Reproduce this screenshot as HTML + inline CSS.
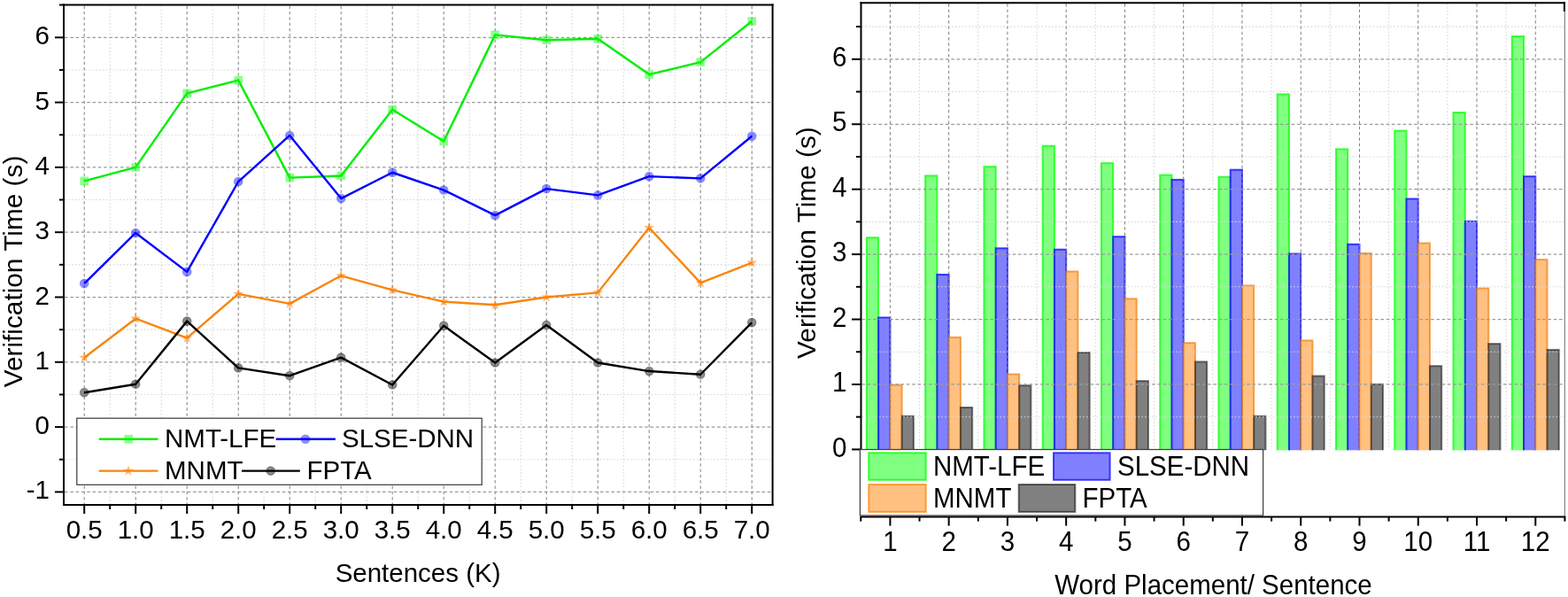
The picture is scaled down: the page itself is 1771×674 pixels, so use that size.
<!DOCTYPE html>
<html><head><meta charset="utf-8"><title>Verification Time Charts</title>
<style>
html,body{margin:0;padding:0;background:#fff;}
body{width:1771px;height:674px;overflow:hidden;}
svg{display:block;}
svg text{font-family:"Liberation Sans", Arial, sans-serif;font-size:29.5px;fill:#000;}
</style></head>
<body>
<svg width="1771" height="674" viewBox="0 0 1771 674">
<rect width="1771" height="674" fill="#fff"/>
<line x1="124.2" y1="6.6" x2="124.2" y2="569" stroke="#d6d6d6" stroke-width="1.1" stroke-dasharray="1.6 2.3"/>
<line x1="182.2" y1="6.6" x2="182.2" y2="569" stroke="#d6d6d6" stroke-width="1.1" stroke-dasharray="1.6 2.3"/>
<line x1="240.2" y1="6.6" x2="240.2" y2="569" stroke="#d6d6d6" stroke-width="1.1" stroke-dasharray="1.6 2.3"/>
<line x1="298.2" y1="6.6" x2="298.2" y2="569" stroke="#d6d6d6" stroke-width="1.1" stroke-dasharray="1.6 2.3"/>
<line x1="356.2" y1="6.6" x2="356.2" y2="569" stroke="#d6d6d6" stroke-width="1.1" stroke-dasharray="1.6 2.3"/>
<line x1="414.2" y1="6.6" x2="414.2" y2="569" stroke="#d6d6d6" stroke-width="1.1" stroke-dasharray="1.6 2.3"/>
<line x1="472.2" y1="6.6" x2="472.2" y2="569" stroke="#d6d6d6" stroke-width="1.1" stroke-dasharray="1.6 2.3"/>
<line x1="530.2" y1="6.6" x2="530.2" y2="569" stroke="#d6d6d6" stroke-width="1.1" stroke-dasharray="1.6 2.3"/>
<line x1="588.2" y1="6.6" x2="588.2" y2="569" stroke="#d6d6d6" stroke-width="1.1" stroke-dasharray="1.6 2.3"/>
<line x1="646.2" y1="6.6" x2="646.2" y2="569" stroke="#d6d6d6" stroke-width="1.1" stroke-dasharray="1.6 2.3"/>
<line x1="704.2" y1="6.6" x2="704.2" y2="569" stroke="#d6d6d6" stroke-width="1.1" stroke-dasharray="1.6 2.3"/>
<line x1="762.2" y1="6.6" x2="762.2" y2="569" stroke="#d6d6d6" stroke-width="1.1" stroke-dasharray="1.6 2.3"/>
<line x1="820.2" y1="6.6" x2="820.2" y2="569" stroke="#d6d6d6" stroke-width="1.1" stroke-dasharray="1.6 2.3"/>
<line x1="73" y1="78.95" x2="871.6" y2="78.95" stroke="#d6d6d6" stroke-width="1.1" stroke-dasharray="1.6 2.3"/>
<line x1="73" y1="152.25" x2="871.6" y2="152.25" stroke="#d6d6d6" stroke-width="1.1" stroke-dasharray="1.6 2.3"/>
<line x1="73" y1="225.55" x2="871.6" y2="225.55" stroke="#d6d6d6" stroke-width="1.1" stroke-dasharray="1.6 2.3"/>
<line x1="73" y1="298.85" x2="871.6" y2="298.85" stroke="#d6d6d6" stroke-width="1.1" stroke-dasharray="1.6 2.3"/>
<line x1="73" y1="372.15" x2="871.6" y2="372.15" stroke="#d6d6d6" stroke-width="1.1" stroke-dasharray="1.6 2.3"/>
<line x1="73" y1="445.45" x2="871.6" y2="445.45" stroke="#d6d6d6" stroke-width="1.1" stroke-dasharray="1.6 2.3"/>
<line x1="73" y1="518.75" x2="871.6" y2="518.75" stroke="#d6d6d6" stroke-width="1.1" stroke-dasharray="1.6 2.3"/>
<line x1="95.2" y1="6.6" x2="95.2" y2="569" stroke="#808080" stroke-width="1.0" stroke-dasharray="3.5 2.8"/>
<line x1="153.2" y1="6.6" x2="153.2" y2="569" stroke="#808080" stroke-width="1.0" stroke-dasharray="3.5 2.8"/>
<line x1="211.2" y1="6.6" x2="211.2" y2="569" stroke="#808080" stroke-width="1.0" stroke-dasharray="3.5 2.8"/>
<line x1="269.2" y1="6.6" x2="269.2" y2="569" stroke="#808080" stroke-width="1.0" stroke-dasharray="3.5 2.8"/>
<line x1="327.2" y1="6.6" x2="327.2" y2="569" stroke="#808080" stroke-width="1.0" stroke-dasharray="3.5 2.8"/>
<line x1="385.2" y1="6.6" x2="385.2" y2="569" stroke="#808080" stroke-width="1.0" stroke-dasharray="3.5 2.8"/>
<line x1="443.2" y1="6.6" x2="443.2" y2="569" stroke="#808080" stroke-width="1.0" stroke-dasharray="3.5 2.8"/>
<line x1="501.2" y1="6.6" x2="501.2" y2="569" stroke="#808080" stroke-width="1.0" stroke-dasharray="3.5 2.8"/>
<line x1="559.2" y1="6.6" x2="559.2" y2="569" stroke="#808080" stroke-width="1.0" stroke-dasharray="3.5 2.8"/>
<line x1="617.2" y1="6.6" x2="617.2" y2="569" stroke="#808080" stroke-width="1.0" stroke-dasharray="3.5 2.8"/>
<line x1="675.2" y1="6.6" x2="675.2" y2="569" stroke="#808080" stroke-width="1.0" stroke-dasharray="3.5 2.8"/>
<line x1="733.2" y1="6.6" x2="733.2" y2="569" stroke="#808080" stroke-width="1.0" stroke-dasharray="3.5 2.8"/>
<line x1="791.2" y1="6.6" x2="791.2" y2="569" stroke="#808080" stroke-width="1.0" stroke-dasharray="3.5 2.8"/>
<line x1="849.2" y1="6.6" x2="849.2" y2="569" stroke="#808080" stroke-width="1.0" stroke-dasharray="3.5 2.8"/>
<line x1="73" y1="555.4" x2="871.6" y2="555.4" stroke="#9a9a9a" stroke-width="1.25" stroke-dasharray="3.6 2.7"/>
<line x1="73" y1="482.1" x2="871.6" y2="482.1" stroke="#9a9a9a" stroke-width="1.25" stroke-dasharray="3.6 2.7"/>
<line x1="73" y1="408.8" x2="871.6" y2="408.8" stroke="#9a9a9a" stroke-width="1.25" stroke-dasharray="3.6 2.7"/>
<line x1="73" y1="335.5" x2="871.6" y2="335.5" stroke="#9a9a9a" stroke-width="1.25" stroke-dasharray="3.6 2.7"/>
<line x1="73" y1="262.2" x2="871.6" y2="262.2" stroke="#9a9a9a" stroke-width="1.25" stroke-dasharray="3.6 2.7"/>
<line x1="73" y1="188.9" x2="871.6" y2="188.9" stroke="#9a9a9a" stroke-width="1.25" stroke-dasharray="3.6 2.7"/>
<line x1="73" y1="115.6" x2="871.6" y2="115.6" stroke="#9a9a9a" stroke-width="1.25" stroke-dasharray="3.6 2.7"/>
<line x1="73" y1="42.3" x2="871.6" y2="42.3" stroke="#9a9a9a" stroke-width="1.25" stroke-dasharray="3.6 2.7"/>
<polyline points="95.2,204.29 153.2,188.9 211.2,105.34 269.2,90.68 327.2,200.63 385.2,198.43 443.2,123.66 501.2,159.58 559.2,39.37 617.2,45.23 675.2,43.77 733.2,84.08 791.2,70.15 849.2,23.97" fill="none" stroke="#00ee00" stroke-width="2.4" stroke-linejoin="round"/>
<rect x="90.4" y="199.49" width="9.6" height="9.6" fill="#00ff00" fill-opacity="0.45"/>
<rect x="148.4" y="184.1" width="9.6" height="9.6" fill="#00ff00" fill-opacity="0.45"/>
<rect x="206.4" y="100.54" width="9.6" height="9.6" fill="#00ff00" fill-opacity="0.45"/>
<rect x="264.4" y="85.88" width="9.6" height="9.6" fill="#00ff00" fill-opacity="0.45"/>
<rect x="322.4" y="195.83" width="9.6" height="9.6" fill="#00ff00" fill-opacity="0.45"/>
<rect x="380.4" y="193.63" width="9.6" height="9.6" fill="#00ff00" fill-opacity="0.45"/>
<rect x="438.4" y="118.86" width="9.6" height="9.6" fill="#00ff00" fill-opacity="0.45"/>
<rect x="496.4" y="154.78" width="9.6" height="9.6" fill="#00ff00" fill-opacity="0.45"/>
<rect x="554.4" y="34.57" width="9.6" height="9.6" fill="#00ff00" fill-opacity="0.45"/>
<rect x="612.4" y="40.43" width="9.6" height="9.6" fill="#00ff00" fill-opacity="0.45"/>
<rect x="670.4" y="38.97" width="9.6" height="9.6" fill="#00ff00" fill-opacity="0.45"/>
<rect x="728.4" y="79.28" width="9.6" height="9.6" fill="#00ff00" fill-opacity="0.45"/>
<rect x="786.4" y="65.35" width="9.6" height="9.6" fill="#00ff00" fill-opacity="0.45"/>
<rect x="844.4" y="19.17" width="9.6" height="9.6" fill="#00ff00" fill-opacity="0.45"/>
<polyline points="95.2,320.11 153.2,262.93 211.2,306.91 269.2,205.03 327.2,152.98 385.2,224.08 443.2,194.76 501.2,214.56 559.2,243.14 617.2,213.09 675.2,220.42 733.2,199.16 791.2,201.36 849.2,153.72" fill="none" stroke="#0000ff" stroke-width="2.4" stroke-linejoin="round"/>
<circle cx="95.2" cy="320.11" r="5.3" fill="#0000ff" fill-opacity="0.45"/>
<circle cx="153.2" cy="262.93" r="5.3" fill="#0000ff" fill-opacity="0.45"/>
<circle cx="211.2" cy="306.91" r="5.3" fill="#0000ff" fill-opacity="0.45"/>
<circle cx="269.2" cy="205.03" r="5.3" fill="#0000ff" fill-opacity="0.45"/>
<circle cx="327.2" cy="152.98" r="5.3" fill="#0000ff" fill-opacity="0.45"/>
<circle cx="385.2" cy="224.08" r="5.3" fill="#0000ff" fill-opacity="0.45"/>
<circle cx="443.2" cy="194.76" r="5.3" fill="#0000ff" fill-opacity="0.45"/>
<circle cx="501.2" cy="214.56" r="5.3" fill="#0000ff" fill-opacity="0.45"/>
<circle cx="559.2" cy="243.14" r="5.3" fill="#0000ff" fill-opacity="0.45"/>
<circle cx="617.2" cy="213.09" r="5.3" fill="#0000ff" fill-opacity="0.45"/>
<circle cx="675.2" cy="220.42" r="5.3" fill="#0000ff" fill-opacity="0.45"/>
<circle cx="733.2" cy="199.16" r="5.3" fill="#0000ff" fill-opacity="0.45"/>
<circle cx="791.2" cy="201.36" r="5.3" fill="#0000ff" fill-opacity="0.45"/>
<circle cx="849.2" cy="153.72" r="5.3" fill="#0000ff" fill-opacity="0.45"/>
<polyline points="95.2,403.67 153.2,359.69 211.2,381.68 269.2,331.84 327.2,342.83 385.2,311.31 443.2,327.44 501.2,340.63 559.2,344.3 617.2,335.5 675.2,330.37 733.2,257.07 791.2,319.37 849.2,296.65" fill="none" stroke="#f7860f" stroke-width="2.4" stroke-linejoin="round"/>
<polygon points="95.2,397.47 96.73,401.56 101.1,401.75 97.68,404.47 98.84,408.68 95.2,406.27 91.56,408.68 92.72,404.47 89.3,401.75 93.67,401.56" fill="rgba(255,128,0,0.55)"/>
<polygon points="153.2,353.49 154.73,357.58 159.1,357.77 155.68,360.49 156.84,364.7 153.2,362.29 149.56,364.7 150.72,360.49 147.3,357.77 151.67,357.58" fill="rgba(255,128,0,0.55)"/>
<polygon points="211.2,375.48 212.73,379.57 217.1,379.76 213.68,382.48 214.84,386.69 211.2,384.28 207.56,386.69 208.72,382.48 205.3,379.76 209.67,379.57" fill="rgba(255,128,0,0.55)"/>
<polygon points="269.2,325.64 270.73,329.73 275.1,329.92 271.68,332.64 272.84,336.85 269.2,334.44 265.56,336.85 266.72,332.64 263.3,329.92 267.67,329.73" fill="rgba(255,128,0,0.55)"/>
<polygon points="327.2,336.63 328.73,340.72 333.1,340.91 329.68,343.63 330.84,347.85 327.2,345.43 323.56,347.85 324.72,343.63 321.3,340.91 325.67,340.72" fill="rgba(255,128,0,0.55)"/>
<polygon points="385.2,305.11 386.73,309.2 391.1,309.4 387.68,312.12 388.84,316.33 385.2,313.91 381.56,316.33 382.72,312.12 379.3,309.4 383.67,309.2" fill="rgba(255,128,0,0.55)"/>
<polygon points="443.2,321.24 444.73,325.33 449.1,325.52 445.68,328.24 446.84,332.45 443.2,330.04 439.56,332.45 440.72,328.24 437.3,325.52 441.67,325.33" fill="rgba(255,128,0,0.55)"/>
<polygon points="501.2,334.43 502.73,338.52 507.1,338.72 503.68,341.44 504.84,345.65 501.2,343.24 497.56,345.65 498.72,341.44 495.3,338.72 499.67,338.52" fill="rgba(255,128,0,0.55)"/>
<polygon points="559.2,338.1 560.73,342.19 565.1,342.38 561.68,345.1 562.84,349.31 559.2,346.9 555.56,349.31 556.72,345.1 553.3,342.38 557.67,342.19" fill="rgba(255,128,0,0.55)"/>
<polygon points="617.2,329.3 618.73,333.39 623.1,333.58 619.68,336.3 620.84,340.52 617.2,338.1 613.56,340.52 614.72,336.3 611.3,333.58 615.67,333.39" fill="rgba(255,128,0,0.55)"/>
<polygon points="675.2,324.17 676.73,328.26 681.1,328.45 677.68,331.17 678.84,335.38 675.2,332.97 671.56,335.38 672.72,331.17 669.3,328.45 673.67,328.26" fill="rgba(255,128,0,0.55)"/>
<polygon points="733.2,250.87 734.73,254.96 739.1,255.15 735.68,257.87 736.84,262.08 733.2,259.67 729.56,262.08 730.72,257.87 727.3,255.15 731.67,254.96" fill="rgba(255,128,0,0.55)"/>
<polygon points="791.2,313.17 792.73,317.27 797.1,317.46 793.68,320.18 794.84,324.39 791.2,321.98 787.56,324.39 788.72,320.18 785.3,317.46 789.67,317.27" fill="rgba(255,128,0,0.55)"/>
<polygon points="849.2,290.45 850.73,294.54 855.1,294.74 851.68,297.46 852.84,301.67 849.2,299.25 845.56,301.67 846.72,297.46 843.3,294.74 847.67,294.54" fill="rgba(255,128,0,0.55)"/>
<polyline points="95.2,443.25 153.2,433.72 211.2,362.62 269.2,415.4 327.2,424.19 385.2,403.67 443.2,434.45 501.2,367.75 559.2,409.53 617.2,367.02 675.2,409.53 733.2,419.06 791.2,422.73 849.2,364.09" fill="none" stroke="#000000" stroke-width="2.4" stroke-linejoin="round"/>
<circle cx="95.2" cy="443.25" r="4.8" fill="#000" fill-opacity="0.45" stroke="#000" stroke-opacity="0.3" stroke-width="1.2"/>
<circle cx="153.2" cy="433.72" r="4.8" fill="#000" fill-opacity="0.45" stroke="#000" stroke-opacity="0.3" stroke-width="1.2"/>
<circle cx="211.2" cy="362.62" r="4.8" fill="#000" fill-opacity="0.45" stroke="#000" stroke-opacity="0.3" stroke-width="1.2"/>
<circle cx="269.2" cy="415.4" r="4.8" fill="#000" fill-opacity="0.45" stroke="#000" stroke-opacity="0.3" stroke-width="1.2"/>
<circle cx="327.2" cy="424.19" r="4.8" fill="#000" fill-opacity="0.45" stroke="#000" stroke-opacity="0.3" stroke-width="1.2"/>
<circle cx="385.2" cy="403.67" r="4.8" fill="#000" fill-opacity="0.45" stroke="#000" stroke-opacity="0.3" stroke-width="1.2"/>
<circle cx="443.2" cy="434.45" r="4.8" fill="#000" fill-opacity="0.45" stroke="#000" stroke-opacity="0.3" stroke-width="1.2"/>
<circle cx="501.2" cy="367.75" r="4.8" fill="#000" fill-opacity="0.45" stroke="#000" stroke-opacity="0.3" stroke-width="1.2"/>
<circle cx="559.2" cy="409.53" r="4.8" fill="#000" fill-opacity="0.45" stroke="#000" stroke-opacity="0.3" stroke-width="1.2"/>
<circle cx="617.2" cy="367.02" r="4.8" fill="#000" fill-opacity="0.45" stroke="#000" stroke-opacity="0.3" stroke-width="1.2"/>
<circle cx="675.2" cy="409.53" r="4.8" fill="#000" fill-opacity="0.45" stroke="#000" stroke-opacity="0.3" stroke-width="1.2"/>
<circle cx="733.2" cy="419.06" r="4.8" fill="#000" fill-opacity="0.45" stroke="#000" stroke-opacity="0.3" stroke-width="1.2"/>
<circle cx="791.2" cy="422.73" r="4.8" fill="#000" fill-opacity="0.45" stroke="#000" stroke-opacity="0.3" stroke-width="1.2"/>
<circle cx="849.2" cy="364.09" r="4.8" fill="#000" fill-opacity="0.45" stroke="#000" stroke-opacity="0.3" stroke-width="1.2"/>
<rect x="86.8" y="472.2" width="457.4" height="75.1" fill="#fff" stroke="#404040" stroke-width="1.25"/>
<line x1="111.7" y1="495.7" x2="178.4" y2="495.7" stroke="#00ee00" stroke-width="2.4"/>
<rect x="140.5" y="490.9" width="9.6" height="9.6" fill="#00ff00" fill-opacity="0.45"/>
<line x1="311.7" y1="495.7" x2="378.9" y2="495.7" stroke="#0000ff" stroke-width="2.4"/>
<circle cx="345" cy="495.7" r="5.3" fill="#0000ff" fill-opacity="0.45"/>
<line x1="111.7" y1="531.6" x2="178.4" y2="531.6" stroke="#f7860f" stroke-width="2.4"/>
<polygon points="145,525.4 146.53,529.49 150.9,529.68 147.48,532.4 148.64,536.62 145,534.2 141.36,536.62 142.52,532.4 139.1,529.68 143.47,529.49" fill="rgba(255,128,0,0.55)"/>
<line x1="273" y1="531.6" x2="338.8" y2="531.6" stroke="#000" stroke-width="2.4"/>
<circle cx="305.7" cy="531.6" r="4.8" fill="#000" fill-opacity="0.45" stroke="#000" stroke-opacity="0.3" stroke-width="1.2"/>
<text x="186" y="505">NMT-LFE</text>
<text x="386" y="505">SLSE-DNN</text>
<text x="186" y="541.3">MNMT</text>
<text x="346.6" y="541.3">FPTA</text>
<line x1="72.0" y1="4.6" x2="72.0" y2="571.0" stroke="#000" stroke-width="2"/>
<line x1="872.6" y1="4.6" x2="872.6" y2="571.0" stroke="#000" stroke-width="2"/>
<line x1="67.0" y1="5.6" x2="873.6" y2="5.6" stroke="#000" stroke-width="2"/>
<line x1="71.0" y1="570.0" x2="873.6" y2="570.0" stroke="#000" stroke-width="2"/>
<line x1="62.0" y1="555.4" x2="72.0" y2="555.4" stroke="#000" stroke-width="2"/>
<text x="56" y="563.4" text-anchor="end">-1</text>
<line x1="62.0" y1="482.1" x2="72.0" y2="482.1" stroke="#000" stroke-width="2"/>
<text x="56" y="490.1" text-anchor="end">0</text>
<line x1="62.0" y1="408.8" x2="72.0" y2="408.8" stroke="#000" stroke-width="2"/>
<text x="56" y="416.8" text-anchor="end">1</text>
<line x1="62.0" y1="335.5" x2="72.0" y2="335.5" stroke="#000" stroke-width="2"/>
<text x="56" y="343.5" text-anchor="end">2</text>
<line x1="62.0" y1="262.2" x2="72.0" y2="262.2" stroke="#000" stroke-width="2"/>
<text x="56" y="270.2" text-anchor="end">3</text>
<line x1="62.0" y1="188.9" x2="72.0" y2="188.9" stroke="#000" stroke-width="2"/>
<text x="56" y="196.9" text-anchor="end">4</text>
<line x1="62.0" y1="115.6" x2="72.0" y2="115.6" stroke="#000" stroke-width="2"/>
<text x="56" y="123.6" text-anchor="end">5</text>
<line x1="62.0" y1="42.3" x2="72.0" y2="42.3" stroke="#000" stroke-width="2"/>
<text x="56" y="50.3" text-anchor="end">6</text>
<line x1="67.0" y1="78.95" x2="72.0" y2="78.95" stroke="#000" stroke-width="2"/>
<line x1="67.0" y1="152.25" x2="72.0" y2="152.25" stroke="#000" stroke-width="2"/>
<line x1="67.0" y1="225.55" x2="72.0" y2="225.55" stroke="#000" stroke-width="2"/>
<line x1="67.0" y1="298.85" x2="72.0" y2="298.85" stroke="#000" stroke-width="2"/>
<line x1="67.0" y1="372.15" x2="72.0" y2="372.15" stroke="#000" stroke-width="2"/>
<line x1="67.0" y1="445.45" x2="72.0" y2="445.45" stroke="#000" stroke-width="2"/>
<line x1="67.0" y1="518.75" x2="72.0" y2="518.75" stroke="#000" stroke-width="2"/>
<line x1="95.2" y1="570.0" x2="95.2" y2="580.0" stroke="#000" stroke-width="2"/>
<text x="95.2" y="608.4" text-anchor="middle">0.5</text>
<line x1="153.2" y1="570.0" x2="153.2" y2="580.0" stroke="#000" stroke-width="2"/>
<text x="153.2" y="608.4" text-anchor="middle">1.0</text>
<line x1="211.2" y1="570.0" x2="211.2" y2="580.0" stroke="#000" stroke-width="2"/>
<text x="211.2" y="608.4" text-anchor="middle">1.5</text>
<line x1="269.2" y1="570.0" x2="269.2" y2="580.0" stroke="#000" stroke-width="2"/>
<text x="269.2" y="608.4" text-anchor="middle">2.0</text>
<line x1="327.2" y1="570.0" x2="327.2" y2="580.0" stroke="#000" stroke-width="2"/>
<text x="327.2" y="608.4" text-anchor="middle">2.5</text>
<line x1="385.2" y1="570.0" x2="385.2" y2="580.0" stroke="#000" stroke-width="2"/>
<text x="385.2" y="608.4" text-anchor="middle">3.0</text>
<line x1="443.2" y1="570.0" x2="443.2" y2="580.0" stroke="#000" stroke-width="2"/>
<text x="443.2" y="608.4" text-anchor="middle">3.5</text>
<line x1="501.2" y1="570.0" x2="501.2" y2="580.0" stroke="#000" stroke-width="2"/>
<text x="501.2" y="608.4" text-anchor="middle">4.0</text>
<line x1="559.2" y1="570.0" x2="559.2" y2="580.0" stroke="#000" stroke-width="2"/>
<text x="559.2" y="608.4" text-anchor="middle">4.5</text>
<line x1="617.2" y1="570.0" x2="617.2" y2="580.0" stroke="#000" stroke-width="2"/>
<text x="617.2" y="608.4" text-anchor="middle">5.0</text>
<line x1="675.2" y1="570.0" x2="675.2" y2="580.0" stroke="#000" stroke-width="2"/>
<text x="675.2" y="608.4" text-anchor="middle">5.5</text>
<line x1="733.2" y1="570.0" x2="733.2" y2="580.0" stroke="#000" stroke-width="2"/>
<text x="733.2" y="608.4" text-anchor="middle">6.0</text>
<line x1="791.2" y1="570.0" x2="791.2" y2="580.0" stroke="#000" stroke-width="2"/>
<text x="791.2" y="608.4" text-anchor="middle">6.5</text>
<line x1="849.2" y1="570.0" x2="849.2" y2="580.0" stroke="#000" stroke-width="2"/>
<text x="849.2" y="608.4" text-anchor="middle">7.0</text>
<line x1="124.2" y1="570.0" x2="124.2" y2="575.0" stroke="#000" stroke-width="2"/>
<line x1="182.2" y1="570.0" x2="182.2" y2="575.0" stroke="#000" stroke-width="2"/>
<line x1="240.2" y1="570.0" x2="240.2" y2="575.0" stroke="#000" stroke-width="2"/>
<line x1="298.2" y1="570.0" x2="298.2" y2="575.0" stroke="#000" stroke-width="2"/>
<line x1="356.2" y1="570.0" x2="356.2" y2="575.0" stroke="#000" stroke-width="2"/>
<line x1="414.2" y1="570.0" x2="414.2" y2="575.0" stroke="#000" stroke-width="2"/>
<line x1="472.2" y1="570.0" x2="472.2" y2="575.0" stroke="#000" stroke-width="2"/>
<line x1="530.2" y1="570.0" x2="530.2" y2="575.0" stroke="#000" stroke-width="2"/>
<line x1="588.2" y1="570.0" x2="588.2" y2="575.0" stroke="#000" stroke-width="2"/>
<line x1="646.2" y1="570.0" x2="646.2" y2="575.0" stroke="#000" stroke-width="2"/>
<line x1="704.2" y1="570.0" x2="704.2" y2="575.0" stroke="#000" stroke-width="2"/>
<line x1="762.2" y1="570.0" x2="762.2" y2="575.0" stroke="#000" stroke-width="2"/>
<line x1="820.2" y1="570.0" x2="820.2" y2="575.0" stroke="#000" stroke-width="2"/>
<text x="472.1" y="656.7" text-anchor="middle">Sentences (K)</text>
<text transform="translate(24.5,306.5) rotate(-90)" text-anchor="middle" style="font-size:29.8px">Verification Time (s)</text>
<defs><clipPath id="bc"><rect x="960" y="0" width="811" height="508.2"/></clipPath></defs>
<g clip-path="url(#bc)">
<rect x="978.9" y="268.3" width="13.25" height="242.9" fill="#80ff80" stroke="rgba(0,255,0,0.72)" stroke-width="2"/>
<rect x="992.15" y="358.5" width="13.25" height="152.7" fill="#8080ff" stroke="rgba(0,0,255,0.72)" stroke-width="2"/>
<rect x="1005.4" y="434.6" width="13.25" height="76.6" fill="#ffc080" stroke="rgba(240,120,0,0.65)" stroke-width="2"/>
<rect x="1018.65" y="469.8" width="13.25" height="41.4" fill="#808080" stroke="rgba(0,0,0,0.5)" stroke-width="2"/>
<rect x="1045.16" y="198.4" width="13.25" height="312.8" fill="#80ff80" stroke="rgba(0,255,0,0.72)" stroke-width="2"/>
<rect x="1058.41" y="310" width="13.25" height="201.2" fill="#8080ff" stroke="rgba(0,0,255,0.72)" stroke-width="2"/>
<rect x="1071.66" y="380.8" width="13.25" height="130.4" fill="#ffc080" stroke="rgba(240,120,0,0.65)" stroke-width="2"/>
<rect x="1084.91" y="460" width="13.25" height="51.2" fill="#808080" stroke="rgba(0,0,0,0.5)" stroke-width="2"/>
<rect x="1111.42" y="188.2" width="13.25" height="323" fill="#80ff80" stroke="rgba(0,255,0,0.72)" stroke-width="2"/>
<rect x="1124.67" y="280.3" width="13.25" height="230.9" fill="#8080ff" stroke="rgba(0,0,255,0.72)" stroke-width="2"/>
<rect x="1137.92" y="422.5" width="13.25" height="88.7" fill="#ffc080" stroke="rgba(240,120,0,0.65)" stroke-width="2"/>
<rect x="1151.17" y="435.2" width="13.25" height="76" fill="#808080" stroke="rgba(0,0,0,0.5)" stroke-width="2"/>
<rect x="1177.68" y="164.7" width="13.25" height="346.5" fill="#80ff80" stroke="rgba(0,255,0,0.72)" stroke-width="2"/>
<rect x="1190.93" y="281.7" width="13.25" height="229.5" fill="#8080ff" stroke="rgba(0,0,255,0.72)" stroke-width="2"/>
<rect x="1204.18" y="306.5" width="13.25" height="204.7" fill="#ffc080" stroke="rgba(240,120,0,0.65)" stroke-width="2"/>
<rect x="1217.43" y="398" width="13.25" height="113.2" fill="#808080" stroke="rgba(0,0,0,0.5)" stroke-width="2"/>
<rect x="1243.94" y="184.2" width="13.25" height="327" fill="#80ff80" stroke="rgba(0,255,0,0.72)" stroke-width="2"/>
<rect x="1257.19" y="267.2" width="13.25" height="244" fill="#8080ff" stroke="rgba(0,0,255,0.72)" stroke-width="2"/>
<rect x="1270.44" y="337.3" width="13.25" height="173.9" fill="#ffc080" stroke="rgba(240,120,0,0.65)" stroke-width="2"/>
<rect x="1283.69" y="430.1" width="13.25" height="81.1" fill="#808080" stroke="rgba(0,0,0,0.5)" stroke-width="2"/>
<rect x="1310.2" y="197.6" width="13.25" height="313.6" fill="#80ff80" stroke="rgba(0,255,0,0.72)" stroke-width="2"/>
<rect x="1323.45" y="202.9" width="13.25" height="308.3" fill="#8080ff" stroke="rgba(0,0,255,0.72)" stroke-width="2"/>
<rect x="1336.7" y="387.2" width="13.25" height="124" fill="#ffc080" stroke="rgba(240,120,0,0.65)" stroke-width="2"/>
<rect x="1349.95" y="408.4" width="13.25" height="102.8" fill="#808080" stroke="rgba(0,0,0,0.5)" stroke-width="2"/>
<rect x="1376.46" y="199.7" width="13.25" height="311.5" fill="#80ff80" stroke="rgba(0,255,0,0.72)" stroke-width="2"/>
<rect x="1389.71" y="191.7" width="13.25" height="319.5" fill="#8080ff" stroke="rgba(0,0,255,0.72)" stroke-width="2"/>
<rect x="1402.96" y="322.4" width="13.25" height="188.8" fill="#ffc080" stroke="rgba(240,120,0,0.65)" stroke-width="2"/>
<rect x="1416.21" y="469.8" width="13.25" height="41.4" fill="#808080" stroke="rgba(0,0,0,0.5)" stroke-width="2"/>
<rect x="1442.72" y="106.4" width="13.25" height="404.8" fill="#80ff80" stroke="rgba(0,255,0,0.72)" stroke-width="2"/>
<rect x="1455.97" y="286.5" width="13.25" height="224.7" fill="#8080ff" stroke="rgba(0,0,255,0.72)" stroke-width="2"/>
<rect x="1469.22" y="384.4" width="13.25" height="126.8" fill="#ffc080" stroke="rgba(240,120,0,0.65)" stroke-width="2"/>
<rect x="1482.47" y="424.5" width="13.25" height="86.7" fill="#808080" stroke="rgba(0,0,0,0.5)" stroke-width="2"/>
<rect x="1508.98" y="168.4" width="13.25" height="342.8" fill="#80ff80" stroke="rgba(0,255,0,0.72)" stroke-width="2"/>
<rect x="1522.23" y="275.8" width="13.25" height="235.4" fill="#8080ff" stroke="rgba(0,0,255,0.72)" stroke-width="2"/>
<rect x="1535.48" y="285.9" width="13.25" height="225.3" fill="#ffc080" stroke="rgba(240,120,0,0.65)" stroke-width="2"/>
<rect x="1548.73" y="433.8" width="13.25" height="77.4" fill="#808080" stroke="rgba(0,0,0,0.5)" stroke-width="2"/>
<rect x="1575.24" y="147.6" width="13.25" height="363.6" fill="#80ff80" stroke="rgba(0,255,0,0.72)" stroke-width="2"/>
<rect x="1588.49" y="224.5" width="13.25" height="286.7" fill="#8080ff" stroke="rgba(0,0,255,0.72)" stroke-width="2"/>
<rect x="1601.74" y="274.5" width="13.25" height="236.7" fill="#ffc080" stroke="rgba(240,120,0,0.65)" stroke-width="2"/>
<rect x="1614.99" y="413.2" width="13.25" height="98" fill="#808080" stroke="rgba(0,0,0,0.5)" stroke-width="2"/>
<rect x="1641.5" y="127" width="13.25" height="384.2" fill="#80ff80" stroke="rgba(0,255,0,0.72)" stroke-width="2"/>
<rect x="1654.75" y="249.9" width="13.25" height="261.3" fill="#8080ff" stroke="rgba(0,0,255,0.72)" stroke-width="2"/>
<rect x="1668" y="325.5" width="13.25" height="185.7" fill="#ffc080" stroke="rgba(240,120,0,0.65)" stroke-width="2"/>
<rect x="1681.25" y="388.1" width="13.25" height="123.1" fill="#808080" stroke="rgba(0,0,0,0.5)" stroke-width="2"/>
<rect x="1707.76" y="41" width="13.25" height="470.2" fill="#80ff80" stroke="rgba(0,255,0,0.72)" stroke-width="2"/>
<rect x="1721.01" y="199.2" width="13.25" height="312" fill="#8080ff" stroke="rgba(0,0,255,0.72)" stroke-width="2"/>
<rect x="1734.26" y="293.1" width="13.25" height="218.1" fill="#ffc080" stroke="rgba(240,120,0,0.65)" stroke-width="2"/>
<rect x="1747.51" y="394.9" width="13.25" height="116.3" fill="#808080" stroke="rgba(0,0,0,0.5)" stroke-width="2"/>
</g>
<line x1="1038.53" y1="4.2" x2="1038.53" y2="507.6" stroke="#d6d6d6" stroke-width="1.1" stroke-dasharray="1.6 2.3"/>
<line x1="1104.79" y1="4.2" x2="1104.79" y2="507.6" stroke="#d6d6d6" stroke-width="1.1" stroke-dasharray="1.6 2.3"/>
<line x1="1171.05" y1="4.2" x2="1171.05" y2="507.6" stroke="#d6d6d6" stroke-width="1.1" stroke-dasharray="1.6 2.3"/>
<line x1="1237.31" y1="4.2" x2="1237.31" y2="507.6" stroke="#d6d6d6" stroke-width="1.1" stroke-dasharray="1.6 2.3"/>
<line x1="1303.57" y1="4.2" x2="1303.57" y2="507.6" stroke="#d6d6d6" stroke-width="1.1" stroke-dasharray="1.6 2.3"/>
<line x1="1369.83" y1="4.2" x2="1369.83" y2="507.6" stroke="#d6d6d6" stroke-width="1.1" stroke-dasharray="1.6 2.3"/>
<line x1="1436.09" y1="4.2" x2="1436.09" y2="507.6" stroke="#d6d6d6" stroke-width="1.1" stroke-dasharray="1.6 2.3"/>
<line x1="1502.35" y1="4.2" x2="1502.35" y2="507.6" stroke="#d6d6d6" stroke-width="1.1" stroke-dasharray="1.6 2.3"/>
<line x1="1568.61" y1="4.2" x2="1568.61" y2="507.6" stroke="#d6d6d6" stroke-width="1.1" stroke-dasharray="1.6 2.3"/>
<line x1="1634.87" y1="4.2" x2="1634.87" y2="507.6" stroke="#d6d6d6" stroke-width="1.1" stroke-dasharray="1.6 2.3"/>
<line x1="1701.13" y1="4.2" x2="1701.13" y2="507.6" stroke="#d6d6d6" stroke-width="1.1" stroke-dasharray="1.6 2.3"/>
<line x1="973.5" y1="470.68" x2="1766.3" y2="470.68" stroke="#d6d6d6" stroke-width="1.1" stroke-dasharray="1.6 2.3"/>
<line x1="973.5" y1="397.25" x2="1766.3" y2="397.25" stroke="#d6d6d6" stroke-width="1.1" stroke-dasharray="1.6 2.3"/>
<line x1="973.5" y1="323.82" x2="1766.3" y2="323.82" stroke="#d6d6d6" stroke-width="1.1" stroke-dasharray="1.6 2.3"/>
<line x1="973.5" y1="250.39" x2="1766.3" y2="250.39" stroke="#d6d6d6" stroke-width="1.1" stroke-dasharray="1.6 2.3"/>
<line x1="973.5" y1="176.96" x2="1766.3" y2="176.96" stroke="#d6d6d6" stroke-width="1.1" stroke-dasharray="1.6 2.3"/>
<line x1="973.5" y1="103.53" x2="1766.3" y2="103.53" stroke="#d6d6d6" stroke-width="1.1" stroke-dasharray="1.6 2.3"/>
<line x1="973.5" y1="30.1" x2="1766.3" y2="30.1" stroke="#d6d6d6" stroke-width="1.1" stroke-dasharray="1.6 2.3"/>
<line x1="1005.4" y1="4.2" x2="1005.4" y2="507.6" stroke="#808080" stroke-width="1.0" stroke-dasharray="3.5 2.8"/>
<line x1="1071.66" y1="4.2" x2="1071.66" y2="507.6" stroke="#808080" stroke-width="1.0" stroke-dasharray="3.5 2.8"/>
<line x1="1137.92" y1="4.2" x2="1137.92" y2="507.6" stroke="#808080" stroke-width="1.0" stroke-dasharray="3.5 2.8"/>
<line x1="1204.18" y1="4.2" x2="1204.18" y2="507.6" stroke="#808080" stroke-width="1.0" stroke-dasharray="3.5 2.8"/>
<line x1="1270.44" y1="4.2" x2="1270.44" y2="507.6" stroke="#808080" stroke-width="1.0" stroke-dasharray="3.5 2.8"/>
<line x1="1336.7" y1="4.2" x2="1336.7" y2="507.6" stroke="#808080" stroke-width="1.0" stroke-dasharray="3.5 2.8"/>
<line x1="1402.96" y1="4.2" x2="1402.96" y2="507.6" stroke="#808080" stroke-width="1.0" stroke-dasharray="3.5 2.8"/>
<line x1="1469.22" y1="4.2" x2="1469.22" y2="507.6" stroke="#808080" stroke-width="1.0" stroke-dasharray="3.5 2.8"/>
<line x1="1535.48" y1="4.2" x2="1535.48" y2="507.6" stroke="#808080" stroke-width="1.0" stroke-dasharray="3.5 2.8"/>
<line x1="1601.74" y1="4.2" x2="1601.74" y2="507.6" stroke="#808080" stroke-width="1.0" stroke-dasharray="3.5 2.8"/>
<line x1="1668" y1="4.2" x2="1668" y2="507.6" stroke="#808080" stroke-width="1.0" stroke-dasharray="3.5 2.8"/>
<line x1="1734.26" y1="4.2" x2="1734.26" y2="507.6" stroke="#808080" stroke-width="1.0" stroke-dasharray="3.5 2.8"/>
<line x1="973.5" y1="433.97" x2="1766.3" y2="433.97" stroke="#9a9a9a" stroke-width="1.25" stroke-dasharray="3.6 2.7"/>
<line x1="973.5" y1="360.54" x2="1766.3" y2="360.54" stroke="#9a9a9a" stroke-width="1.25" stroke-dasharray="3.6 2.7"/>
<line x1="973.5" y1="287.11" x2="1766.3" y2="287.11" stroke="#9a9a9a" stroke-width="1.25" stroke-dasharray="3.6 2.7"/>
<line x1="973.5" y1="213.68" x2="1766.3" y2="213.68" stroke="#9a9a9a" stroke-width="1.25" stroke-dasharray="3.6 2.7"/>
<line x1="973.5" y1="140.25" x2="1766.3" y2="140.25" stroke="#9a9a9a" stroke-width="1.25" stroke-dasharray="3.6 2.7"/>
<line x1="973.5" y1="66.82" x2="1766.3" y2="66.82" stroke="#9a9a9a" stroke-width="1.25" stroke-dasharray="3.6 2.7"/>
<line x1="972.5" y1="2.2" x2="972.5" y2="508.2" stroke="#000" stroke-width="2"/>
<line x1="971.5" y1="3.2" x2="1768.1" y2="3.2" stroke="#000" stroke-width="2"/>
<line x1="1767.3" y1="3.2" x2="1767.3" y2="583.6" stroke="#777" stroke-width="1.1"/>
<line x1="1766.8999999999999" y1="2.2" x2="1766.8999999999999" y2="13" stroke="#000" stroke-width="2"/>
<line x1="971.5" y1="583.6" x2="1768.3" y2="583.6" stroke="#000" stroke-width="2"/>
<line x1="962.0" y1="507.4" x2="972.5" y2="507.4" stroke="#000" stroke-width="2"/>
<text transform="translate(956.5,515.6) scale(1,1.085)" text-anchor="end">0</text>
<line x1="962.0" y1="433.97" x2="972.5" y2="433.97" stroke="#000" stroke-width="2"/>
<text transform="translate(956.5,442.17) scale(1,1.085)" text-anchor="end">1</text>
<line x1="962.0" y1="360.54" x2="972.5" y2="360.54" stroke="#000" stroke-width="2"/>
<text transform="translate(956.5,368.74) scale(1,1.085)" text-anchor="end">2</text>
<line x1="962.0" y1="287.11" x2="972.5" y2="287.11" stroke="#000" stroke-width="2"/>
<text transform="translate(956.5,295.31) scale(1,1.085)" text-anchor="end">3</text>
<line x1="962.0" y1="213.68" x2="972.5" y2="213.68" stroke="#000" stroke-width="2"/>
<text transform="translate(956.5,221.88) scale(1,1.085)" text-anchor="end">4</text>
<line x1="962.0" y1="140.25" x2="972.5" y2="140.25" stroke="#000" stroke-width="2"/>
<text transform="translate(956.5,148.45) scale(1,1.085)" text-anchor="end">5</text>
<line x1="962.0" y1="66.82" x2="972.5" y2="66.82" stroke="#000" stroke-width="2"/>
<text transform="translate(956.5,75.02) scale(1,1.085)" text-anchor="end">6</text>
<line x1="967.0" y1="470.68" x2="972.5" y2="470.68" stroke="#000" stroke-width="2"/>
<line x1="967.0" y1="397.25" x2="972.5" y2="397.25" stroke="#000" stroke-width="2"/>
<line x1="967.0" y1="323.82" x2="972.5" y2="323.82" stroke="#000" stroke-width="2"/>
<line x1="967.0" y1="250.39" x2="972.5" y2="250.39" stroke="#000" stroke-width="2"/>
<line x1="967.0" y1="176.96" x2="972.5" y2="176.96" stroke="#000" stroke-width="2"/>
<line x1="967.0" y1="103.53" x2="972.5" y2="103.53" stroke="#000" stroke-width="2"/>
<line x1="967.0" y1="30.1" x2="972.5" y2="30.1" stroke="#000" stroke-width="2"/>
<line x1="1005.4" y1="583.6" x2="1005.4" y2="593.6" stroke="#000" stroke-width="2"/>
<text transform="translate(1005.4,622.4) scale(1,1.085)" text-anchor="middle">1</text>
<line x1="1071.66" y1="583.6" x2="1071.66" y2="593.6" stroke="#000" stroke-width="2"/>
<text transform="translate(1071.66,622.4) scale(1,1.085)" text-anchor="middle">2</text>
<line x1="1137.92" y1="583.6" x2="1137.92" y2="593.6" stroke="#000" stroke-width="2"/>
<text transform="translate(1137.92,622.4) scale(1,1.085)" text-anchor="middle">3</text>
<line x1="1204.18" y1="583.6" x2="1204.18" y2="593.6" stroke="#000" stroke-width="2"/>
<text transform="translate(1204.18,622.4) scale(1,1.085)" text-anchor="middle">4</text>
<line x1="1270.44" y1="583.6" x2="1270.44" y2="593.6" stroke="#000" stroke-width="2"/>
<text transform="translate(1270.44,622.4) scale(1,1.085)" text-anchor="middle">5</text>
<line x1="1336.7" y1="583.6" x2="1336.7" y2="593.6" stroke="#000" stroke-width="2"/>
<text transform="translate(1336.7,622.4) scale(1,1.085)" text-anchor="middle">6</text>
<line x1="1402.96" y1="583.6" x2="1402.96" y2="593.6" stroke="#000" stroke-width="2"/>
<text transform="translate(1402.96,622.4) scale(1,1.085)" text-anchor="middle">7</text>
<line x1="1469.22" y1="583.6" x2="1469.22" y2="593.6" stroke="#000" stroke-width="2"/>
<text transform="translate(1469.22,622.4) scale(1,1.085)" text-anchor="middle">8</text>
<line x1="1535.48" y1="583.6" x2="1535.48" y2="593.6" stroke="#000" stroke-width="2"/>
<text transform="translate(1535.48,622.4) scale(1,1.085)" text-anchor="middle">9</text>
<line x1="1601.74" y1="583.6" x2="1601.74" y2="593.6" stroke="#000" stroke-width="2"/>
<text transform="translate(1601.74,622.4) scale(1,1.085)" text-anchor="middle">10</text>
<line x1="1668" y1="583.6" x2="1668" y2="593.6" stroke="#000" stroke-width="2"/>
<text transform="translate(1668,622.4) scale(1,1.085)" text-anchor="middle">11</text>
<line x1="1734.26" y1="583.6" x2="1734.26" y2="593.6" stroke="#000" stroke-width="2"/>
<text transform="translate(1734.26,622.4) scale(1,1.085)" text-anchor="middle">12</text>
<line x1="972.27" y1="583.6" x2="972.27" y2="588.6" stroke="#000" stroke-width="2"/>
<line x1="1038.53" y1="583.6" x2="1038.53" y2="588.6" stroke="#000" stroke-width="2"/>
<line x1="1104.79" y1="583.6" x2="1104.79" y2="588.6" stroke="#000" stroke-width="2"/>
<line x1="1171.05" y1="583.6" x2="1171.05" y2="588.6" stroke="#000" stroke-width="2"/>
<line x1="1237.31" y1="583.6" x2="1237.31" y2="588.6" stroke="#000" stroke-width="2"/>
<line x1="1303.57" y1="583.6" x2="1303.57" y2="588.6" stroke="#000" stroke-width="2"/>
<line x1="1369.83" y1="583.6" x2="1369.83" y2="588.6" stroke="#000" stroke-width="2"/>
<line x1="1436.09" y1="583.6" x2="1436.09" y2="588.6" stroke="#000" stroke-width="2"/>
<line x1="1502.35" y1="583.6" x2="1502.35" y2="588.6" stroke="#000" stroke-width="2"/>
<line x1="1568.61" y1="583.6" x2="1568.61" y2="588.6" stroke="#000" stroke-width="2"/>
<line x1="1634.87" y1="583.6" x2="1634.87" y2="588.6" stroke="#000" stroke-width="2"/>
<line x1="1701.13" y1="583.6" x2="1701.13" y2="588.6" stroke="#000" stroke-width="2"/>
<line x1="1767.39" y1="583.6" x2="1767.39" y2="588.6" stroke="#000" stroke-width="2"/>
<rect x="971.4" y="507.5" width="455.2" height="74.5" fill="#fff" stroke="#404040" stroke-width="1.25"/>
<rect x="981.3" y="511.3" width="64.4" height="30.5" fill="#80ff80" stroke="rgba(0,255,0,0.75)" stroke-width="2"/>
<rect x="981.3" y="547" width="64.4" height="30.9" fill="#ffc080" stroke="rgba(255,128,0,0.7)" stroke-width="2"/>
<rect x="1190" y="511.3" width="63.6" height="30.5" fill="#8080ff" stroke="rgba(0,0,255,0.7)" stroke-width="2"/>
<rect x="1150.7" y="547" width="63.6" height="30.9" fill="#808080" stroke="rgba(0,0,0,0.55)" stroke-width="2"/>
<text transform="translate(1054,536.8) scale(1,1.085)">NMT-LFE</text>
<text transform="translate(1262,536.8) scale(1,1.085)">SLSE-DNN</text>
<text transform="translate(1054,572.8) scale(1,1.085)">MNMT</text>
<text transform="translate(1222.5,572.8) scale(1,1.085)">FPTA</text>
<text transform="translate(1370.5,670.8) scale(1,1.085)" text-anchor="middle">Word Placement/ Sentence</text>
<text transform="translate(920.8,274.1) rotate(-90)" text-anchor="middle" style="font-size:29.8px">Verification Time (s)</text>
</svg>
</body></html>
